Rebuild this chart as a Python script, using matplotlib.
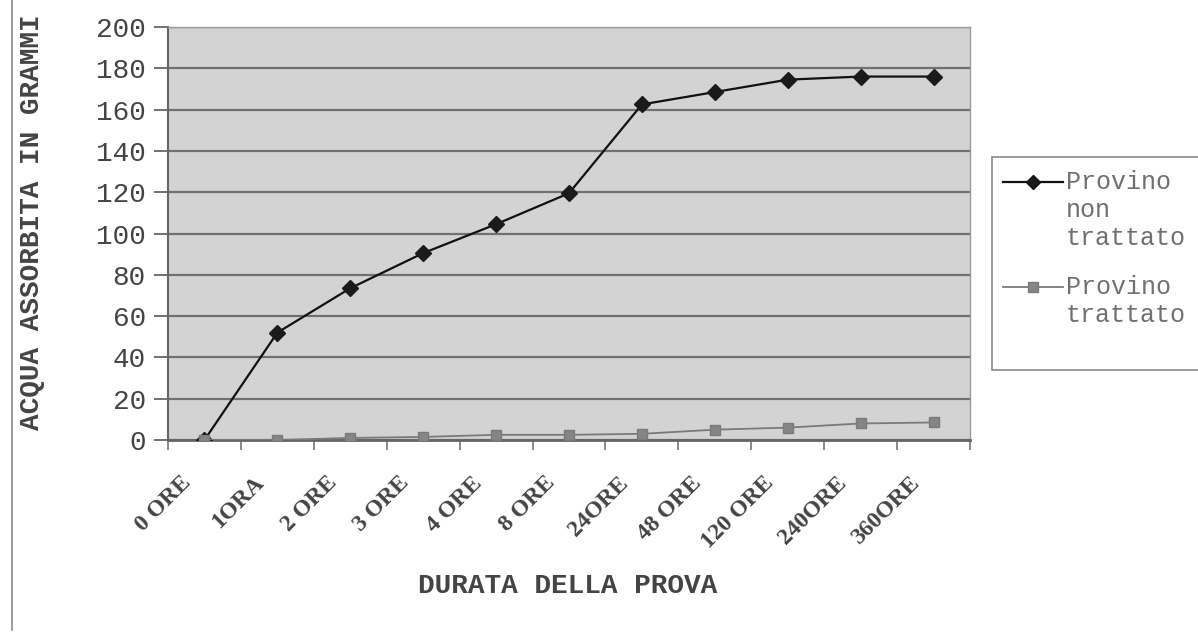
import matplotlib
matplotlib.use("Agg")
import matplotlib.pyplot as plt
from matplotlib.transforms import ScaledTranslation
from matplotlib.lines import Line2D
from matplotlib.patches import Rectangle

# dati
durata = ["0 ORE", "1ORA", "2 ORE", "3 ORE", "4 ORE", "8 ORE", "24ORE",
          "48 ORE", "120 ORE", "240ORE", "360ORE"]
non_trattato = [0, 52, 73.5, 90.5, 104.5, 119.5, 162.5, 168.5, 174.5, 176, 176]
trattato = [0, 0, 1, 1.5, 2.5, 2.5, 3, 5, 6, 8, 8.5]
etichette = ["Provino non trattato", "Provino trattato"]
y_ticks = list(range(0, 201, 20))

W, H = 1198, 633
fig = plt.figure(figsize=(W / 100, H / 100), dpi=100)
ax = fig.add_axes([168 / W, 1 - 440 / H, (970 - 168) / W, (440 - 27) / H])
ax.set_facecolor("#d3d3d3")

x = list(range(len(durata)))
ax.plot(x, non_trattato, color="#111111", lw=1.6, marker="D",
        markersize=8, markerfacecolor="#1a1a1a", markeredgecolor="#1a1a1a",
        zorder=3)
ax.plot(x, trattato, color="#7a7a7a", lw=1.3, marker="s",
        markersize=7.5, markerfacecolor="#858585", markeredgecolor="#7a7a7a",
        zorder=4)

ax.set_xlim(-0.5, len(durata) - 0.5)
ax.set_ylim(0, 200)
ax.set_yticks(y_ticks)
ax.set_yticklabels([str(v) for v in y_ticks], family="Liberation Mono",
                   fontsize=20, color="#444444")
ax.tick_params(axis="y", length=10, width=1.3, color="#666666", pad=6,
               direction="out")
ax.yaxis.grid(True, color="#707070", lw=1.6)
ax.set_axisbelow(True)

# etichette categorie al centro, tacche ai bordi
ax.set_xticks(x)
ax.set_xticklabels(durata, rotation=45, ha="right", va="baseline",
                   rotation_mode="anchor", family="Liberation Serif",
                   fontsize=17, fontweight="bold", color="#444444")
ax.tick_params(axis="x", which="major", length=0, pad=31.5)
ax.set_xticks([i - 0.5 for i in range(len(durata) + 1)], minor=True)
ax.tick_params(axis="x", which="minor", length=7, width=1.2,
               color="#777777", direction="out")
off = ScaledTranslation(-13 / 100, 0, fig.dpi_scale_trans)
for lab in ax.get_xticklabels():
    lab.set_transform(lab.get_transform() + off)

for s in ["top", "right"]:
    ax.spines[s].set_color("#9a9a9a")
    ax.spines[s].set_linewidth(1.0)
ax.spines["left"].set_color("#666666")
ax.spines["left"].set_linewidth(1.5)
ax.spines["bottom"].set_color("#666666")
ax.spines["bottom"].set_linewidth(2)

fig.text(568 / W, 1 - 586 / H, "DURATA DELLA PROVA", family="Liberation Mono",
         fontsize=20, fontweight="bold", color="#444444",
         ha="center", va="center")
fig.text(32 / W, 1 - 222 / H, "ACQUA ASSORBITA IN GRAMMI",
         family="Liberation Mono", fontsize=20, fontweight="bold",
         color="#444444", rotation=90, ha="center", va="center")

# bordo sinistro del riquadro
fig.add_artist(Line2D([12 / W, 12 / W], [1, 1 - 630 / H],
                      transform=fig.transFigure, color="#8a8a8a", lw=1.2))

# legenda disegnata a mano
fig.add_artist(Rectangle((992 / W, 1 - 370 / H), 0.2, (370 - 157) / H,
                         transform=fig.transFigure, facecolor="white",
                         edgecolor="#8a8a8a", lw=1.2))
stili = [dict(color="#111111", marker="D", markersize=7, lw=1.6,
              markerfacecolor="#1a1a1a"),
         dict(color="#7a7a7a", marker="s", markersize=6.5, lw=1.3,
              markerfacecolor="#858585")]
y0 = [182, 287]
for lab, st, yy in zip(etichette, stili, y0):
    fy = 1 - yy / H
    fig.add_artist(Line2D([1003 / W, 1063 / W], [fy, fy],
                          transform=fig.transFigure, markevery=[], **st))
    fig.add_artist(Line2D([1033 / W], [fy], transform=fig.transFigure,
                          linestyle="none",
                          **{k: v for k, v in st.items() if k != "lw"}))
    for j, parola in enumerate(lab.split(" ")):
        fig.text(1066 / W, 1 - (yy + 28 * j) / H, parola,
                 family="Liberation Mono", fontsize=18, color="#707070",
                 ha="left", va="center")

fig.savefig("out.png", dpi=100)
